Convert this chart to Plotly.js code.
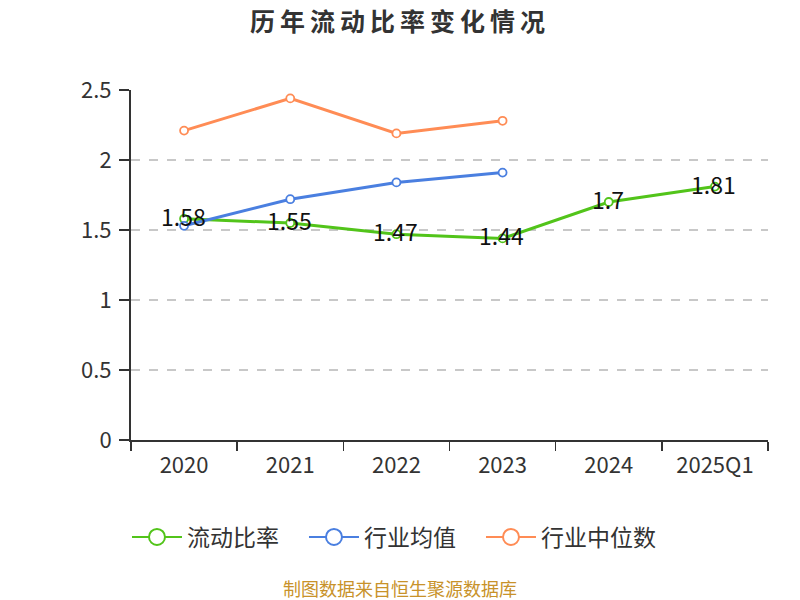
<!DOCTYPE html>
<html><head><meta charset="utf-8">
<script src="https://cdn.plot.ly/plotly-3.0.1.min.js"></script>
<style>html,body{margin:0;padding:0;background:#fff}#chart{width:800px;height:600px}
.gtitle{letter-spacing:5px}</style>
</head><body><div id="chart"></div>
<script>
const categories = ["2020","2021","2022","2023","2024","2025Q1"];
const currentRatio = [1.58,1.55,1.47,1.44,1.70,1.81];
const currentRatioLabels = ["1.58","1.55","1.47","1.44","1.7","1.81"];
const industryMean = [1.53,1.72,1.84,1.91];
const industryMedian = [2.21,2.44,2.19,2.28];
const yTicks = [0,0.5,1,1.5,2,2.5];
const yTickLabels = ["0","0.5","1","1.5","2","2.5"];
const seriesNames = ['流动比率','行业均值','行业中位数'];
const seriesColors = ['#52c41a','#4a7fe0','#ff8c55'];

const FONT = '"Noto Sans CJK SC", "Noto Sans", sans-serif';
function series(name, y, color){
  return {
    type:'scatter', mode:'lines+markers', name:name, showlegend:false,
    x: categories.slice(0,y.length), y:y,
    line:{color:color, width:3},
    marker:{symbol:'circle', size:8, color:'#fff', line:{color:color, width:1.8}}
  };
}
function legendEntry(name, color){
  return {
    type:'scatter', mode:'lines+markers', name:name, showlegend:true,
    x:[null], y:[null],
    line:{color:color, width:2},
    marker:{symbol:'circle', size:16, color:'#fff', line:{color:color, width:2}}
  };
}
const traces = [
  series(seriesNames[0], currentRatio, seriesColors[0]),
  series(seriesNames[1], industryMean, seriesColors[1]),
  series(seriesNames[2], industryMedian, seriesColors[2]),
  legendEntry(seriesNames[0], seriesColors[0]),
  legendEntry(seriesNames[1], seriesColors[1]),
  legendEntry(seriesNames[2], seriesColors[2])
];
const annotations = currentRatio.map((v,i)=>({
  x:i, y:v, xref:'x', yref:'y', text:currentRatioLabels[i],
  showarrow:false, yshift:3, xshift:-1, font:{family:FONT, size:23, color:'#111'}
}));
annotations.push({
  xref:'paper', yref:'paper', x:0.4223, y:0, yshift:-148, xanchor:'center', yanchor:'middle',
  text:'制图数据来自恒生聚源数据库', showarrow:false, borderpad:0,
  font:{family:FONT, size:18, color:'#c8922a'}
});
const layout = {
  width:800, height:600,
  margin:{l:131, r:32, t:90, b:160},
  paper_bgcolor:'#fff', plot_bgcolor:'#fff',
  title:{text:'<b>历年流动比率变化情况</b>', x:0.5, xanchor:'center', y:0.963, yanchor:'middle',
         font:{family:FONT, size:25, color:'#333'}},
  xaxis:{type:'category', categoryorder:'array', categoryarray:categories, range:[-0.5,5.5],
         tickson:'boundaries', ticks:'outside', ticklen:9, tickcolor:'#333', tickwidth:1.5,
         showline:true, linecolor:'#333', linewidth:2, showgrid:false, zeroline:false,
         ticklabelstandoff:5,
         tickfont:{family:FONT, size:22, color:'#333'}, fixedrange:true},
  yaxis:{range:[0,2.5], tickvals:yTicks, ticktext:yTickLabels, ticks:'outside', ticklen:10,
         tickcolor:'#333', tickwidth:1.5, showline:true, linecolor:'#333', linewidth:2,
         showgrid:true, gridcolor:'#c8c8c8', griddash:'dash', gridwidth:1.5, zeroline:false,
         ticklabelstandoff:3,
         tickfont:{family:FONT, size:22, color:'#333'}},
  showlegend:true,
  legend:{orientation:'h', x:0.4105, xanchor:'center', y:-97/350, yanchor:'middle',
          font:{family:FONT, size:23, color:'#333'}, itemwidth:50, traceorder:'normal',
          itemsizing:'trace', entrywidth:112},
  annotations:annotations
};
Plotly.newPlot('chart', traces, layout, {displayModeBar:false, staticPlot:true});
</script></body></html>
